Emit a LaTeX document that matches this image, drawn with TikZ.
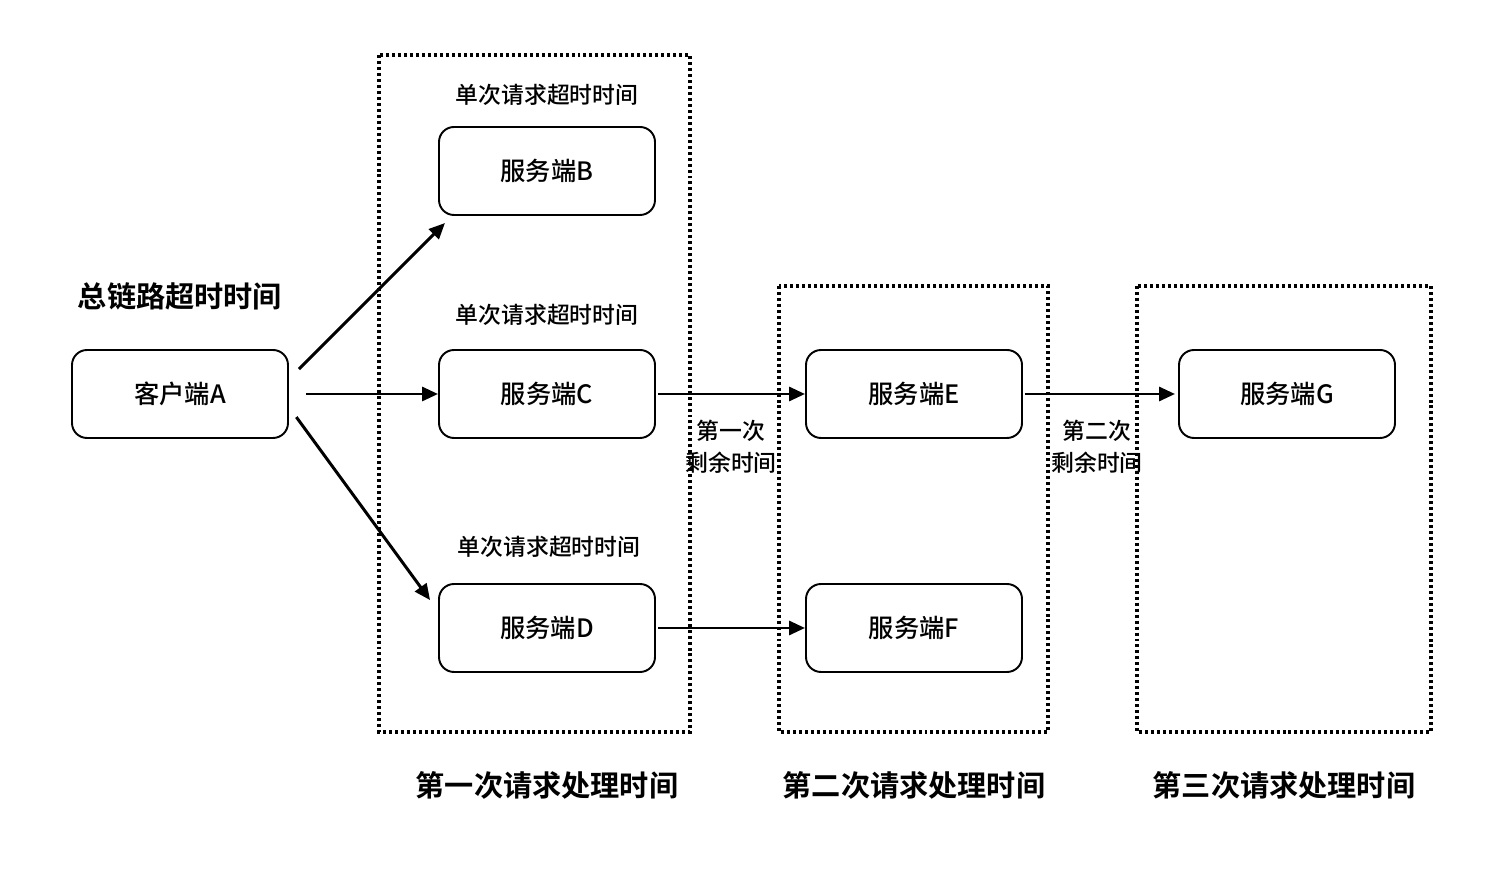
\documentclass[tikz,border=0pt]{standalone}
\usepackage{fontspec}
\setmainfont{Noto Sans CJK SC}[UprightFont=* Medium, BoldFont=* Bold]
\usetikzlibrary{arrows.meta}

\tikzset{
	server/.style={draw, line width=1.1pt, rounded corners=0.3cm, minimum width=4.32cm, minimum height=1.76cm, font=\fontsize{14.4}{16}\selectfont},
	stage/.style={line width=1.9pt, dash pattern=on 1.7pt off 1.7pt},
	arr/.style={line width=1.7pt, -{Triangle[length=0.32cm, width=0.28cm]}},
	tlabel/.style={font=\fontsize{13}{18}\selectfont, align=center},
	blabel/.style={font=\fontsize{16.6}{20}\selectfont\bfseries}
}

\begin{document}
\begin{tikzpicture}
					\useasboundingbox[fill=white] (0,0) rectangle (30.24,-17.68);
					% stages
					\draw[stage] (7.58,-1.1) rectangle (13.8,-14.64);
					\draw[stage] (15.58,-5.72) rectangle (20.96,-14.64);
					\draw[stage] (22.74,-5.72) rectangle (28.62,-14.64);
					
					% servers
					\node[server] (A) at (3.6,-7.88) {客户端A};
					\node[server] (B) at (10.94,-3.42) {服务端B};
					\node[server] (C) at (10.94,-7.88) {服务端C};
					\node[server] (D) at (10.94,-12.56) {服务端D};
					\node[server] (E) at (18.28,-7.88) {服务端E};
					\node[server] (F) at (18.28,-12.56) {服务端F};
					\node[server] (G) at (25.74,-7.88) {服务端G};
					
					% arrows
					\draw[arr, shorten <=0.28cm, shorten >=0.2cm] ([yshift=0.3cm]A.east) -- ([xshift=0.28cm]B.south west);
					\draw[arr, shorten <=0.34cm] (A.east) -- (C.west);
					\draw[arr, shorten <=0.25cm, shorten >=0.27cm] ([yshift=-0.26cm]A.east) -- ([yshift=0.34cm]D.west);
					\draw[arr, shorten <=0.04cm] (C.east) -- (E.west);
					\draw[arr, shorten <=0.04cm] (D.east) -- (F.west);
					\draw[arr, shorten <=0.04cm, shorten >=0.06cm] (E.east) -- (G.west);
					
					% labels
					\node[blabel] (total) at (3.6,-5.92) {总链路超时时间};
					\node[tlabel] (tb) at (10.94,-1.9) {单次请求超时时间};
					\node[tlabel] (tc) at (10.94,-6.3) {单次请求超时时间};
					\node[tlabel] (td) at (10.98,-10.94) {单次请求超时时间};
					\node[tlabel] (rest1) at (14.62,-8.94) {第一次\\剩余时间};
					\node[tlabel] (rest2) at (21.94,-8.94) {第二次\\剩余时间};
					\node[blabel] (s1) at (10.94,-15.7) {第一次请求处理时间};
					\node[blabel] (s2) at (18.28,-15.7) {第二次请求处理时间};
					\node[blabel] (s3) at (25.68,-15.7) {第三次请求处理时间};
				\end{tikzpicture}
\end{document}
